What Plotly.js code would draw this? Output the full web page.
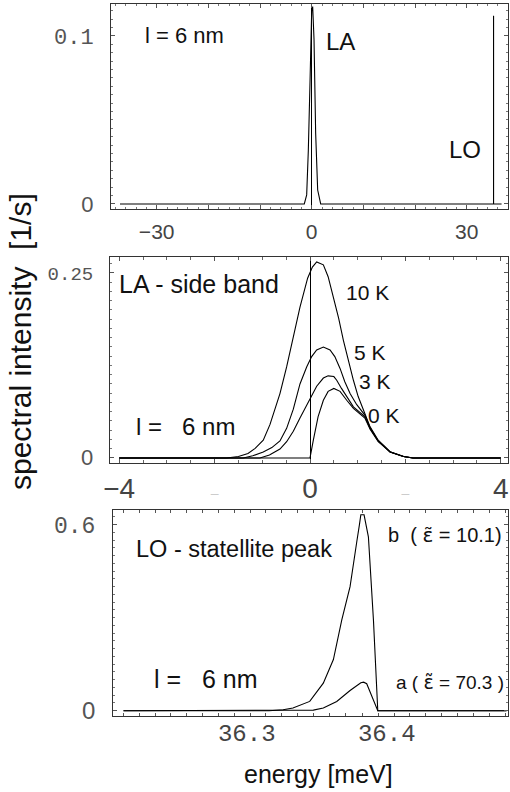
<!DOCTYPE html>
<html>
<head>
<meta charset="utf-8">
<script src="https://cdn.plot.ly/plotly-3.0.1.min.js"></script>
<style>html,body{margin:0;padding:0;background:#fff;}#chart{width:510px;height:792px;}</style>
</head>
<body>
<div id="chart"></div>
<script>
// ---- Panel 1: LA line and LO line (energy -37 .. 37 meV)
const topX = [-37.1, -1.43, -0.97, -0.65, -0.33, 0.0, 0.19, 0.45, 0.77, 1.16, 1.74, 35.2, 35.2, 35.2, 36.75];
const topY = [0, 0, 0.0054, 0.032, 0.072, 0.115, 0.1175, 0.098, 0.042, 0.0083, 0, 0, 0.112, 0, 0];

// ---- Panel 2: LA side band for several temperatures
const la10X = [-4, -1.75, -1.5, -1.3, -1.15, -0.98, -0.84, -0.63, -0.49, -0.35, -0.21, -0.05, 0.05, 0.14, 0.28, 0.38, 0.49, 0.6, 0.7, 0.8, 0.91, 1.01, 1.12, 1.26, 1.43, 1.68, 1.96, 2.16, 4];
const la10Y = [0, 0, 0.002, 0.006, 0.013, 0.024, 0.045, 0.087, 0.123, 0.164, 0.204, 0.243, 0.258, 0.265, 0.261, 0.245, 0.218, 0.189, 0.159, 0.132, 0.105, 0.083, 0.065, 0.042, 0.024, 0.0085, 0.002, 0, 0];
const la5X = [-4, -1.4, -1.2, -0.98, -0.8, -0.63, -0.49, -0.35, -0.21, -0.07, 0.035, 0.14, 0.28, 0.42, 0.52, 0.63, 0.73, 0.84, 0.98, 1.15, 1.26, 1.43, 1.68, 1.96, 2.16, 4];
const la5Y = [0, 0, 0.003, 0.008, 0.014, 0.023, 0.04, 0.066, 0.1, 0.123, 0.137, 0.146, 0.15, 0.146, 0.137, 0.121, 0.103, 0.087, 0.072, 0.058, 0.041, 0.023, 0.008, 0.002, 0, 0];
const la3X = [-4, -1.05, -0.85, -0.63, -0.49, -0.35, -0.21, -0.1, 0, 0.14, 0.28, 0.38, 0.5, 0.56, 0.66, 0.77, 0.91, 1.15, 1.26, 1.43, 1.68, 1.96, 2.16, 4];
const la3Y = [0, 0, 0.004, 0.012, 0.022, 0.036, 0.054, 0.068, 0.08, 0.097, 0.108, 0.111, 0.11, 0.105, 0.094, 0.083, 0.069, 0.056, 0.04, 0.023, 0.008, 0.002, 0, 0];
const la0X = [-4, 0, 0.07, 0.17, 0.28, 0.38, 0.5, 0.63, 0.77, 0.91, 1.15, 1.26, 1.43, 1.68, 1.96, 2.16, 4];
const la0Y = [0, 0, 0.024, 0.056, 0.078, 0.09, 0.094, 0.09, 0.078, 0.067, 0.054, 0.039, 0.022, 0.008, 0.002, 0, 0];

// ---- Panel 3: LO satellite peak, cases a and b
const loBX = [36.212, 36.316, 36.326, 36.333, 36.345, 36.3547, 36.3619, 36.3679, 36.3738, 36.3762, 36.3786, 36.3805, 36.3815, 36.3838, 36.3869, 36.3905, 36.3936, 36.4855];
const loBY = [0, 0, 0.003, 0.009, 0.03, 0.089, 0.165, 0.293, 0.40, 0.48, 0.545, 0.60, 0.632, 0.632, 0.561, 0.293, 0, 0];
const loAX = [36.212, 36.34, 36.3476, 36.3547, 36.3643, 36.3738, 36.3785, 36.3815, 36.3835, 36.3857, 36.3936, 36.4855];
const loAY = [0, 0, 0.002, 0.009, 0.03, 0.065, 0.082, 0.09, 0.092, 0.087, 0, 0];

// ---- tick labels
const topXTicks = [-30, -20, -10, 0, 10, 20, 30];
const topXText = ['\u221230', '', '', '0', '', '', '30'];
const topYTicks = [0, 0.1];
const topYText = ['0', '0.1'];
const midXTicks = [-4, -2, 0, 2, 4];
const midXText = ['\u22124', '\u2013', '0', '\u2013', '4'];
const midYTicks = [0, 0.25];
const midYText = ['0', '0.25'];
const botXTicks = [36.3, 36.4];
const botXText = ['36.3', '36.4'];
const botXMarks = [36.2119, 36.2232, 36.2345, 36.2458, 36.2571, 36.2684, 36.2797, 36.2910, 36.3024, 36.3137, 36.3250, 36.3363, 36.3476, 36.3592, 36.3708, 36.3824, 36.3940, 36.4053, 36.4166, 36.4279, 36.4393, 36.4506, 36.4619, 36.4732, 36.4845];
const botYTicks = [0, 0.6];
const botYText = ['0', '0.6'];

const W = 510, H = 792;
const fx = p => p / W;
const fy = p => 1 - p / H;

const SANS = 'Liberation Sans, Arial, sans-serif';
const MONO = 'Liberation Mono, Courier New, monospace';
const sansZero = (t, s) => t === '0' ? '<span style="font-family:Liberation Sans;font-size:' + s + 'px">0</span>' : t;
const EPS = '<span style="font-family:DejaVu Sans">\u03b5\u0303</span>';

const line = {color: '#000', width: 1.1};
const traces = [
  {x: topX, y: topY, xaxis: 'x', yaxis: 'y', mode: 'lines', line: line},
  {x: la10X, y: la10Y, xaxis: 'x2', yaxis: 'y2', mode: 'lines', line: line},
  {x: la5X, y: la5Y, xaxis: 'x2', yaxis: 'y2', mode: 'lines', line: line},
  {x: la3X, y: la3Y, xaxis: 'x2', yaxis: 'y2', mode: 'lines', line: line},
  {x: la0X, y: la0Y, xaxis: 'x2', yaxis: 'y2', mode: 'lines', line: line},
  {x: loBX, y: loBY, xaxis: 'x3', yaxis: 'y3', mode: 'lines', line: line},
  {x: loAX, y: loAY, xaxis: 'x3', yaxis: 'y3', mode: 'lines', line: line}
];

const frame = {
  showline: true, linecolor: '#333', linewidth: 1, mirror: 'allticks',
  ticks: 'inside', tickcolor: '#555', tickwidth: 1, showgrid: false, zeroline: false,
  fixedrange: true
};

const layout = {
  width: W, height: H,
  margin: {l: 0, r: 0, t: 0, b: 0},
  paper_bgcolor: '#fff', plot_bgcolor: '#fff',
  showlegend: false,
  xaxis: Object.assign({}, frame, {
    domain: [fx(111), fx(508.3)], range: [-38.84, 38.05], anchor: 'y',
    tickmode: 'array', tickvals: topXTicks, ticktext: topXText, ticklen: 4,
    minor: {dtick: 2, tick0: 0, ticks: 'inside', ticklen: 2, tickcolor: '#777'},
    zeroline: true, zerolinecolor: '#000', zerolinewidth: 1,
    tickfont: {family: SANS, size: 21, color: '#444'}, ticklabelstandoff: 4
  }),
  yaxis: Object.assign({}, frame, {
    domain: [fy(209), fy(4)], range: [-0.003, 0.119], anchor: 'x',
    tickmode: 'array', tickvals: topYTicks, ticktext: topYText.map(t => sansZero(t, 22)), ticklen: 4,
    minor: {dtick: 0.005, tick0: 0, ticks: 'inside', ticklen: 2, tickcolor: '#777'},
    tickfont: {family: MONO, size: 22, color: '#555'}, ticklabelstandoff: 12
  }),
  xaxis2: Object.assign({}, frame, {
    domain: [fx(110), fx(508)], range: [-4.193, 4.151], anchor: 'y2',
    tickmode: 'array', tickvals: midXTicks,
    ticktext: midXText.map(t => t === '\u2013' ? '<span style="color:#ccc;font-size:14px">\u2013</span>' : t), ticklen: 4,
    minor: {dtick: 0.5, tick0: 0, ticks: 'inside', ticklen: 3, tickcolor: '#666'},
    zeroline: true, zerolinecolor: '#000', zerolinewidth: 1,
    tickfont: {family: SANS, size: 28, color: '#444'}, ticklabelstandoff: 1
  }),
  yaxis2: Object.assign({}, frame, {
    domain: [fy(462.7), fy(257)], range: [-0.0064, 0.2716], anchor: 'x2',
    tickmode: 'array', tickvals: midYTicks, ticktext: midYText.map(t => sansZero(t, 22)), ticklen: 4,
    minor: {dtick: 0.0125, tick0: 0, ticks: 'inside', ticklen: 2, tickcolor: '#777'},
    tickfont: {family: MONO, size: 19, color: '#555'}, ticklabelstandoff: 12
  }),
  xaxis3: Object.assign({}, frame, {
    domain: [fx(113), fx(508)], range: [36.2045, 36.4866], anchor: 'y3',
    tickmode: 'array', tickvals: botXTicks, ticktext: botXText, ticks: '',
    minor: {tickmode: 'array', tickvals: botXMarks, ticks: 'inside', ticklen: 3, tickcolor: '#555'},
    tickfont: {family: MONO, size: 24, color: '#444'}, ticklabelstandoff: -5
  }),
  yaxis3: Object.assign({}, frame, {
    domain: [fy(715.7), fy(510)], range: [-0.0161, 0.6474], anchor: 'x3',
    tickmode: 'array', tickvals: botYTicks, ticktext: botYText.map(t => sansZero(t, 24)), ticklen: 4,
    minor: {dtick: 0.025, tick0: 0, ticks: 'inside', ticklen: 2, tickcolor: '#777'},
    tickfont: {family: MONO, size: 23, color: '#555'}, ticklabelstandoff: 12
  }),
  annotations: []
};

function note(text, xpx, ypx, size, anchor, extra) {
  layout.annotations.push(Object.assign({
    text: text, xref: 'paper', yref: 'paper', x: fx(xpx), y: fy(ypx),
    xanchor: anchor || 'left', yanchor: 'middle', showarrow: false,
    font: {family: SANS, size: size, color: '#111'}
  }, extra || {}));
}

// Panel 1 labels
note('l = 6 nm', 143, 36, 22);
note('LA', 324, 42, 24);
note('LO', 447, 149, 24);
// Panel 2 labels
note('LA - side band', 117, 284, 25);
note('10 K', 344, 292, 21);
note('5 K', 352, 352, 21);
note('3 K', 357, 381, 21);
note('0 K', 366, 415, 21);
note('l =   6 nm', 134, 426, 24);
// Panel 3 labels
note('LO - statellite peak', 134, 549, 23.5);
note('l =   6 nm', 152, 679, 25);
note('b  ( ' + EPS + ' = 10.1)', 386, 535, 20);
note('a ( ' + EPS + ' = 70.3 )', 506, 682, 19, 'right');
// axis titles
note('energy [meV]', 318, 774, 25, 'center');
note('spectral intensity  [1/s]', 20, 342, 30, 'center', {textangle: -90});

Plotly.newPlot('chart', traces, layout, {staticPlot: true, displayModeBar: false});
</script>
</body>
</html>
